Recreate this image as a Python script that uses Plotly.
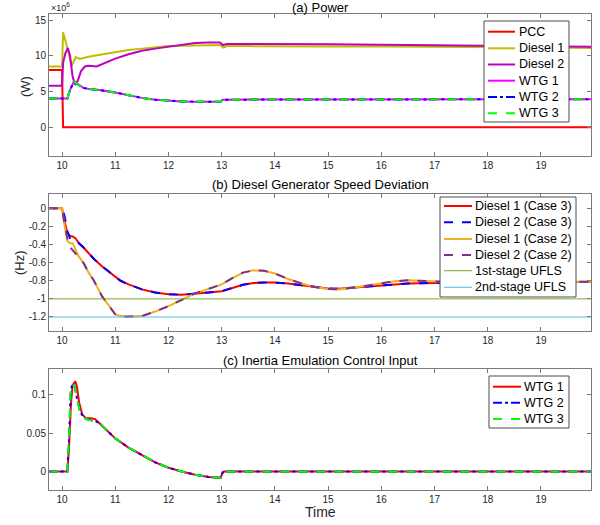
import plotly.graph_objects as go

# ---------------- Panel (a) Power (MW, shown with x10^6 exponent) ----------------
t_pcc = [9.75, 10.0, 10.02, 20.0]
p_pcc = [8.0, 8.0, 0.0, 0.0]

t_d1 = [9.75, 10.0, 10.02, 10.05, 10.1, 10.14, 10.18, 10.22, 10.26, 10.33, 10.4, 10.5, 10.6, 10.8, 11.0, 11.25, 11.5,
        11.75, 12.0, 12.5, 12.98, 13.03, 13.1, 13.5, 14.0, 15.0, 16.0, 17.0, 18.0, 19.0, 20.0]
p_d1 = [8.5, 8.5, 13.3, 12.6, 11.1, 9.9, 8.5, 9.2, 9.8, 9.55, 9.7, 9.85, 10.0, 10.25, 10.5, 10.8, 11.0,
        11.2, 11.35, 11.45, 11.5, 11.15, 11.35, 11.35, 11.3, 11.3, 11.3, 11.25, 11.2, 11.15, 11.1]

t_d2 = [9.75, 10.0, 10.02, 10.06, 10.11, 10.15, 10.2, 10.25, 10.3, 10.36, 10.43, 10.5, 10.65, 10.8, 11.0, 11.25,
        11.5, 11.75, 12.0, 12.25, 12.5, 12.75, 12.97, 13.02, 13.1, 13.5, 14.0, 15.0, 16.0, 17.0, 18.0, 19.0, 20.0]
p_d2 = [5.8, 5.8, 9.0, 10.3, 11.1, 10.0, 7.0, 5.9, 6.6, 7.9, 8.5, 8.6, 8.5, 9.0, 9.6, 10.2,
        10.7, 11.0, 11.3, 11.6, 11.8, 11.85, 11.85, 11.5, 11.65, 11.65, 11.6, 11.6, 11.55, 11.5, 11.4, 11.3, 11.25]

t_wtg = [9.75, 10.1, 10.15, 10.22, 10.3, 10.4, 10.5, 10.7, 11.0, 11.25, 11.5, 11.75, 12.0, 12.25, 12.5, 12.75,
         12.98, 13.02, 13.5, 14.0, 15.0, 16.0, 17.0, 18.0, 19.0, 20.0]
p_wtg1 = [4.0, 4.0, 5.2, 6.35, 6.0, 5.5, 5.35, 5.2, 4.85, 4.45, 4.1, 3.85, 3.7, 3.6, 3.57, 3.55,
          3.55, 3.85, 3.85, 3.85, 3.85, 3.85, 3.87, 3.9, 3.9, 3.92]
p_wtg2 = list(p_wtg1)
p_wtg3 = list(p_wtg1)

# ---------------- Panel (b) Diesel speed deviation (Hz) ----------------
t_b = [9.75, 10.0, 10.05, 10.1, 10.15, 10.2, 10.25, 10.3, 10.4, 10.5, 10.6, 10.75, 11.0, 11.1, 11.25, 11.5, 11.75,
       12.0, 12.25, 12.5, 12.75, 13.0, 13.2, 13.4, 13.6, 13.8, 14.0, 14.25, 14.5, 14.75, 15.0, 15.2, 15.5, 15.75,
       16.0, 16.25, 16.5, 16.75, 17.0, 17.5, 18.0, 18.5, 19.0, 19.5, 20.0]
d1_case3 = [0.0, 0.0, -0.15, -0.27, -0.305, -0.31, -0.33, -0.37, -0.43, -0.5, -0.56, -0.64, -0.76, -0.8, -0.84, -0.895, -0.93,
            -0.948, -0.955, -0.945, -0.93, -0.915, -0.88, -0.845, -0.825, -0.818, -0.82, -0.83, -0.85, -0.87, -0.885, -0.888, -0.875, -0.86,
            -0.85, -0.84, -0.83, -0.826, -0.823, -0.82, -0.815, -0.81, -0.81, -0.812, -0.815]
d2_case3 = [0.0, 0.0, -0.09, -0.25, -0.33, -0.37, -0.38, -0.38, -0.43, -0.5, -0.56, -0.64, -0.76, -0.8, -0.84, -0.895, -0.93,
            -0.948, -0.955, -0.945, -0.93, -0.915, -0.88, -0.845, -0.825, -0.818, -0.82, -0.83, -0.85, -0.87, -0.885, -0.888, -0.875, -0.86,
            -0.85, -0.84, -0.83, -0.826, -0.823, -0.82, -0.815, -0.81, -0.81, -0.812, -0.815]
d1_case2 = [0.0, 0.0, -0.2, -0.36, -0.385, -0.385, -0.45, -0.52, -0.6, -0.71, -0.8, -0.97, -1.17, -1.19, -1.195, -1.19, -1.14,
            -1.08, -1.01, -0.94, -0.89, -0.84, -0.77, -0.71, -0.685, -0.69, -0.72, -0.78, -0.83, -0.87, -0.89, -0.895, -0.875, -0.85,
            -0.825, -0.805, -0.795, -0.8, -0.81, -0.82, -0.82, -0.815, -0.81, -0.81, -0.812]
d2_case2 = [0.0, 0.0, -0.18, -0.33, -0.43, -0.46, -0.49, -0.53, -0.6, -0.71, -0.8, -0.97, -1.17, -1.2, -1.195, -1.19, -1.14,
            -1.08, -1.01, -0.94, -0.89, -0.84, -0.77, -0.71, -0.685, -0.69, -0.72, -0.78, -0.83, -0.87, -0.89, -0.895, -0.875, -0.85,
            -0.825, -0.805, -0.795, -0.8, -0.81, -0.82, -0.82, -0.815, -0.81, -0.81, -0.812]
t_ufls = [9.75, 20.0]
ufls1 = [-1.0, -1.0]
ufls2 = [-1.2, -1.2]

# ---------------- Panel (c) Inertia emulation control input ----------------
t_c1 = [9.75, 10.1, 10.13, 10.17, 10.2, 10.25, 10.28, 10.32, 10.38, 10.45, 10.55, 10.62, 10.7, 10.8, 11.0, 11.25,
        11.5, 11.75, 12.0, 12.25, 12.5, 12.75, 12.98, 13.02, 13.05, 20.0]
u_wtg1 = [0.0, 0.0, 0.03, 0.09, 0.112, 0.117, 0.11, 0.09, 0.074, 0.069, 0.069, 0.068, 0.063, 0.056, 0.043, 0.031,
          0.021, 0.012, 0.005, 0.0, -0.004, -0.007, -0.008, -0.001, 0.0, 0.0]
t_c2 = [9.75, 10.1, 10.13, 10.16, 10.19, 10.24, 10.28, 10.33, 10.4, 10.5, 10.6, 10.7, 10.8, 11.0, 11.25,
        11.5, 11.75, 12.0, 12.25, 12.5, 12.75, 12.98, 13.02, 13.05, 20.0]
u_wtg2 = [0.0, 0.0, 0.04, 0.1, 0.114, 0.11, 0.095, 0.08, 0.07, 0.067, 0.066, 0.063, 0.056, 0.043, 0.031,
          0.021, 0.012, 0.005, 0.0, -0.004, -0.007, -0.008, -0.001, 0.0, 0.0]
u_wtg3 = list(u_wtg2)

xticks = [10, 11, 12, 13, 14, 15, 16, 17, 18, 19]

FONT = "Liberation Sans, Arial, Helvetica, sans-serif"
AX = "#7a7a7a"
TXT = "#262626"

# plot area in page pixels
PL, PR, PT, PB = 49, 591, 14, 490
W, H = 600, 525


def px(xp):
    return (xp - PL) / (PR - PL)


def py(yp):
    return (PB - yp) / (PB - PT)


fig = go.Figure()
legend_items = {"a": [], "b": [], "c": []}


def add(x, y, name, color, dash="solid", width=2.0, xa="x", ya="y", grp="a"):
    fig.add_trace(go.Scatter(x=x, y=y, name=name, mode="lines",
                             line=dict(color=color, dash=dash, width=width),
                             xaxis=xa, yaxis=ya, showlegend=False))
    legend_items[grp].append((name, color, dash, width))


M = 1e6
add(t_pcc, [v * M for v in p_pcc], "PCC", "#ff0000")
add(t_d1, [v * M for v in p_d1], "Diesel 1", "#bfbf00")
add(t_d2, [v * M for v in p_d2], "Diesel 2", "#bf00bf")
add(t_wtg, [v * M for v in p_wtg1], "WTG 1", "#ff00ff")
add(t_wtg, [v * M for v in p_wtg2], "WTG 2", "#0000ff", dash="dashdot")
add(t_wtg, [v * M for v in p_wtg3], "WTG 3", "#00ff00", dash="dash")

add(t_b, d1_case3, "Diesel 1 (Case 3)", "#ff0000", xa="x2", ya="y2", grp="b")
add(t_b, d2_case3, "Diesel 2 (Case 3)", "#0000ff", dash="dash", xa="x2", ya="y2", grp="b")
add(t_b, d1_case2, "Diesel 1 (Case 2)", "#edb120", xa="x2", ya="y2", grp="b")
add(t_b, d2_case2, "Diesel 2 (Case 2)", "#7e2f8e", dash="dash", xa="x2", ya="y2", grp="b")
add(t_ufls, ufls1, "1st-stage UFLS", "#77ac30", width=1, xa="x2", ya="y2", grp="b")
add(t_ufls, ufls2, "2nd-stage UFLS", "#4dbeee", width=1, xa="x2", ya="y2", grp="b")

add(t_c1, u_wtg1, "WTG 1", "#ff0000", xa="x3", ya="y3", grp="c")
add(t_c2, u_wtg2, "WTG 2", "#0000ff", dash="dashdot", xa="x3", ya="y3", grp="c")
add(t_c2, u_wtg3, "WTG 3", "#00ff00", dash="dash", xa="x3", ya="y3", grp="c")


def xax(anchor):
    return dict(range=[9.755, 19.94], tickvals=xticks, ticks="inside", ticklen=4, tickcolor=AX,
                showline=True, linecolor=AX, linewidth=1, mirror="ticks", showgrid=False, zeroline=False,
                tickfont=dict(size=10, color=TXT, family=FONT), anchor=anchor, domain=[0, 1])


def yax(rng, dom, tv, tt, anchor):
    return dict(range=rng, domain=dom, tickvals=tv, ticktext=tt, ticks="inside", ticklen=4, tickcolor=AX,
                showline=True, linecolor=AX, linewidth=1, mirror="ticks", showgrid=False, zeroline=False,
                tickfont=dict(size=10, color=TXT, family=FONT), anchor=anchor)


fig.update_layout(
    width=W, height=H,
    margin=dict(l=PL, r=W - PR, t=PT, b=H - PB),
    paper_bgcolor="white", plot_bgcolor="white",
    font=dict(family=FONT, color=TXT),
    xaxis=xax("y"),
    xaxis2=xax("y2"),
    xaxis3=xax("y3"),
    yaxis=yax([-4.0e6, 15.85e6], [py(155.7), 1.0], [0, 5e6, 10e6, 15e6], ["0", "5", "10", "15"], "x"),
    yaxis2=yax([-1.358, 0.155], [py(331.3), py(194.3)], [0, -0.2, -0.4, -0.6, -0.8, -1.0, -1.2],
               ["0", "-0.2", "-0.4", "-0.6", "-0.8", "-1", "-1.2"], "x2"),
    yaxis3=yax([-0.0239, 0.1326], [0.0, py(369.3)], [0, 0.05, 0.1], ["0", "0.05", "0.1"], "x3"),
    showlegend=False,
)

# ---- hand-drawn legends (MATLAB-style compact boxes) ----
legend_geo = {
    # box x0, x1, y0, y1, line x0, x1, text x, row y list
    "a": (484, 569, 21, 122, 488, 515, 519, [31.7, 48.3, 64.5, 80.7, 97.0, 113.3]),
    "b": (440, 576, 197, 297, 444, 472, 475, [206.0, 222.3, 239.0, 255.0, 270.7, 287.3]),
    "c": (489, 569, 376, 428, 493, 521, 524, [386.7, 402.7, 419.0]),
}
for g, (bx0, bx1, by0, by1, lx0, lx1, tx, rows) in legend_geo.items():
    fig.add_shape(type="rect", xref="paper", yref="paper", x0=px(bx0), x1=px(bx1), y0=py(by1), y1=py(by0),
                  line=dict(color="#4d4d4d", width=1), fillcolor="white", layer="above")
    for (name, color, dash, width), ry in zip(legend_items[g], rows):
        fig.add_shape(type="line", xref="paper", yref="paper", x0=px(lx0), x1=px(lx1), y0=py(ry), y1=py(ry),
                      line=dict(color=color, dash=dash, width=width), layer="above")
        fig.add_annotation(text=name, xref="paper", yref="paper", x=px(tx - 2), y=py(ry), showarrow=False,
                           xanchor="left", yanchor="middle", font=dict(size=12.5, color="black", family=FONT))

# ---- titles and labels ----
for text, yy in [("(a) Power", 7.5), ("(b) Diesel Generator Speed Deviation", 185),
                 ("(c) Inertia Emulation Control Input", 360)]:
    fig.add_annotation(text=text, xref="paper", yref="paper", x=0.5, y=py(yy), showarrow=False,
                       xanchor="center", yanchor="middle", font=dict(size=13, color="black", family=FONT))

fig.add_annotation(text="Time", xref="paper", yref="paper", x=0.5, y=py(512), showarrow=False,
                   xanchor="center", yanchor="middle", font=dict(size=14, color=TXT, family=FONT))
fig.add_annotation(text="(W)", xref="paper", yref="paper", x=px(25), y=py(87), showarrow=False,
                   textangle=-90, xanchor="center", yanchor="middle", font=dict(size=13, color=TXT, family=FONT))
fig.add_annotation(text="(Hz)", xref="paper", yref="paper", x=px(19), y=py(263), showarrow=False,
                   textangle=-90, xanchor="center", yanchor="middle", font=dict(size=13, color=TXT, family=FONT))
fig.add_annotation(text="×10<sup>6</sup>", xref="paper", yref="paper", x=px(49), y=py(7), showarrow=False,
                   xanchor="left", yanchor="middle", font=dict(size=9, color=TXT, family=FONT))

fig.write_html("out.html", config={"displayModeBar": False},
               post_script="document.body.style.margin='0';document.body.style.padding='0';")
